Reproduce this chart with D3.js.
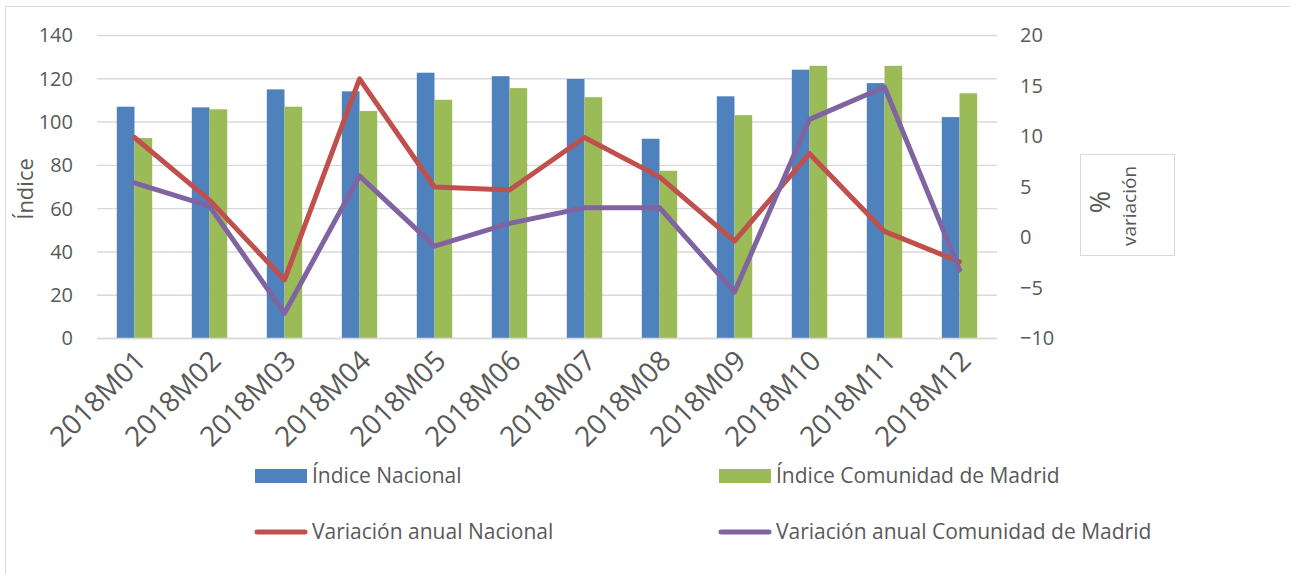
<!DOCTYPE html>
<html lang="es">
  <head>
    <meta charset="UTF-8" />
    <title>Índice y variación anual</title>
    <script src="https://d3js.org/d3.v7.min.js"></script>
    <style>
      body { margin: 0; background: #fff; }
      svg text { font-family: "Open Sans", sans-serif; fill: #595959; }
    </style>
  </head>
  <body>
    <script>
      // data
      const months = ["2018M01", "2018M02", "2018M03", "2018M04", "2018M05", "2018M06",
                      "2018M07", "2018M08", "2018M09", "2018M10", "2018M11", "2018M12"];
      const indiceNacional = [107.1, 106.8, 115.1, 114.2, 122.8, 121.2, 119.9, 92.3, 111.9, 124.2, 118.0, 102.3];
      const indiceMadrid = [92.6, 105.9, 107.1, 105.1, 110.3, 115.7, 111.5, 77.5, 103.2, 126.0, 126.0, 113.3];
      const variacionNacional = [9.9, 3.7, -4.2, 15.7, 5.0, 4.7, 9.9, 6.0, -0.35, 8.3, 0.6, -2.4];
      const variacionMadrid = [5.4, 3.1, -7.5, 6.1, -0.85, 1.4, 2.95, 2.95, -5.4, 11.7, 14.9, -3.2];
      const leftTicks = [0, 20, 40, 60, 80, 100, 120, 140];
      const rightTicks = [-10, -5, 0, 5, 10, 15, 20];

      const width = 1290;
      const height = 574;
      const plot = { left: 97, right: 997, top: 35.5, bottom: 338.5 };

      const svg = d3.select("body").append("svg")
        .attr("width", width)
        .attr("height", height);

      // chart frame
      svg.append("rect")
        .attr("x", 5.5).attr("y", 6.5)
        .attr("width", width + 10).attr("height", height + 10)
        .attr("fill", "#fff")
        .attr("stroke", "#d9d9d9");

      const x = d3.scaleBand()
        .domain(months)
        .range([plot.left, plot.right])
        .paddingInner(0.528)
        .paddingOuter(0.264);

      const xSub = d3.scaleBand()
        .domain(["nac", "mad"])
        .range([0, x.bandwidth()]);

      const yLeft = d3.scaleLinear().domain([0, 140]).range([plot.bottom, plot.top]);
      const yRight = d3.scaleLinear().domain([-10, 20]).range([plot.bottom, plot.top]);

      // gridlines
      svg.append("g")
        .selectAll("line")
        .data(leftTicks)
        .join("line")
        .attr("x1", plot.left).attr("x2", plot.right)
        .attr("y1", d => yLeft(d)).attr("y2", d => yLeft(d))
        .attr("stroke", "#d9d9d9")
        .attr("stroke-width", 1.4);

      // left axis
      const leftAxis = svg.append("g")
        .attr("transform", `translate(73,0)`)
        .call(d3.axisLeft(yLeft).tickValues(leftTicks).tickSize(0).tickPadding(0));
      leftAxis.select(".domain").remove();
      leftAxis.selectAll("text")
        .style("font-family", "'Open Sans', sans-serif")
        .style("font-size", "20px")
        .attr("fill", "#595959");

      // right axis
      const rightAxis = svg.append("g")
        .attr("transform", `translate(1020,0)`)
        .call(d3.axisRight(yRight).tickValues(rightTicks).tickSize(0).tickPadding(0));
      rightAxis.select(".domain").remove();
      rightAxis.selectAll("text")
        .style("font-family", "'Open Sans', sans-serif")
        .style("font-size", "20px")
        .attr("fill", "#595959");

      // x labels
      const xAxis = svg.append("g")
        .attr("transform", `translate(0,${plot.bottom})`)
        .call(d3.axisBottom(x).tickSize(0).tickPadding(0));
      xAxis.select(".domain").remove();
      xAxis.selectAll("text")
        .style("font-family", "'Open Sans', sans-serif")
        .style("font-size", "28px")
        .attr("fill", "#595959")
        .attr("text-anchor", "end")
        .attr("dy", null)
        .attr("y", null)
        .attr("transform", "translate(13,24) rotate(-45)");

      // bars
      const groups = svg.append("g")
        .selectAll("g")
        .data(months)
        .join("g")
        .attr("transform", d => `translate(${x(d)},0)`);

      groups.append("rect")
        .attr("x", xSub("nac"))
        .attr("width", xSub.bandwidth())
        .attr("y", (d, i) => yLeft(indiceNacional[i]))
        .attr("height", (d, i) => yLeft(0) - yLeft(indiceNacional[i]))
        .attr("fill", "#4f81bd");

      groups.append("rect")
        .attr("x", xSub("mad"))
        .attr("width", xSub.bandwidth())
        .attr("y", (d, i) => yLeft(indiceMadrid[i]))
        .attr("height", (d, i) => yLeft(0) - yLeft(indiceMadrid[i]))
        .attr("fill", "#9bbb59");

      // bottom axis line
      svg.append("line")
        .attr("x1", plot.left).attr("x2", plot.right)
        .attr("y1", yLeft(0)).attr("y2", yLeft(0))
        .attr("stroke", "#d9d9d9")
        .attr("stroke-width", 1.4);

      // lines
      const line = d3.line()
        .x((d, i) => x(months[i]) + x.bandwidth() / 2)
        .y(d => yRight(d));

      svg.append("path")
        .datum(variacionNacional)
        .attr("d", line)
        .attr("fill", "none")
        .attr("stroke", "#c0504d")
        .attr("stroke-width", 5)
        .attr("stroke-linejoin", "round")
        .attr("stroke-linecap", "round");

      svg.append("path")
        .datum(variacionMadrid)
        .attr("d", line)
        .attr("fill", "none")
        .attr("stroke", "#8064a2")
        .attr("stroke-width", 5)
        .attr("stroke-linejoin", "round")
        .attr("stroke-linecap", "round");

      // axis titles
      svg.append("text")
        .attr("transform", "translate(33,189) rotate(-90)")
        .attr("text-anchor", "middle")
        .style("font-size", "22px")
        .text("Índice");

      svg.append("rect")
        .attr("x", 1080.5).attr("y", 154.5)
        .attr("width", 94).attr("height", 101)
        .attr("fill", "#fff")
        .attr("stroke", "#d9d9d9");

      svg.append("text")
        .attr("transform", "translate(1110,202) rotate(-90)")
        .attr("text-anchor", "middle")
        .style("font-size", "27px")
        .text("%");

      svg.append("text")
        .attr("transform", "translate(1136,206) rotate(-90)")
        .attr("text-anchor", "middle")
        .style("font-size", "19px")
        .text("variación");

      // legend
      const legendItems = [
        { label: "Índice Nacional", color: "#4f81bd", type: "bar", x: 255, y: 476 },
        { label: "Índice Comunidad de Madrid", color: "#9bbb59", type: "bar", x: 719, y: 476 },
        { label: "Variación anual Nacional", color: "#c0504d", type: "line", x: 255, y: 532 },
        { label: "Variación anual Comunidad de Madrid", color: "#8064a2", type: "line", x: 719, y: 532 }
      ];

      const legend = svg.append("g")
        .selectAll("g")
        .data(legendItems)
        .join("g")
        .attr("transform", d => `translate(${d.x},${d.y})`);

      legend.filter(d => d.type === "bar")
        .append("rect")
        .attr("x", 0).attr("y", -7)
        .attr("width", 52).attr("height", 14)
        .attr("fill", d => d.color);

      legend.filter(d => d.type === "line")
        .append("line")
        .attr("x1", 2).attr("x2", 50)
        .attr("y1", 0).attr("y2", 0)
        .attr("stroke", d => d.color)
        .attr("stroke-width", 5)
        .attr("stroke-linecap", "round");

      legend.append("text")
        .attr("x", 57)
        .attr("dy", "0.35em")
        .style("font-size", "21px")
        .text(d => d.label);
    </script>
  </body>
</html>
